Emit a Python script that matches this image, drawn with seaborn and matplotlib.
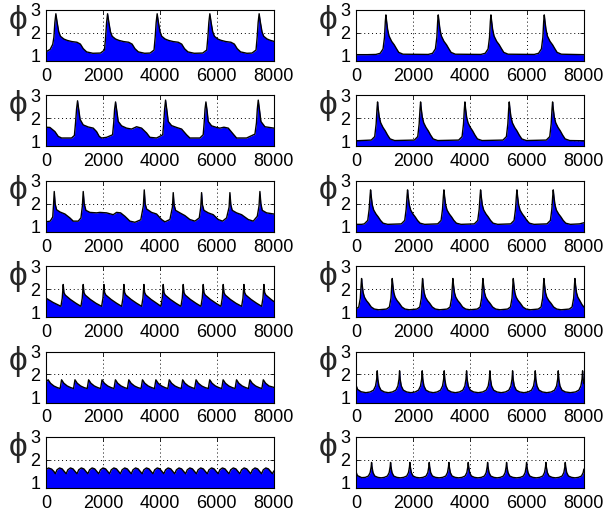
import matplotlib
matplotlib.use('Agg')
import matplotlib.pyplot as plt
import seaborn as sns

# each panel: (time, phi) pairs
phi_l1 = [(0, 1.17), (150, 1.28), (240, 1.5), (280, 1.8), (315, 2.45), (350, 2.83), (395, 2.45), (450, 2.05),
          (510, 1.85), (630, 1.73), (750, 1.67), (910, 1.62), (1090, 1.59), (1210, 1.51), (1310, 1.31), (1430, 1.17),
          (1650, 1.11),
          (1915, 1.12), (2055, 1.25), (2095, 1.8), (2130, 2.45), (2165, 2.83), (2210, 2.45), (2265, 2.05), (2325, 1.85),
          (2445, 1.73), (2565, 1.67), (2725, 1.62), (2905, 1.59), (3025, 1.51), (3125, 1.31), (3245, 1.17), (3465, 1.11),
          (3655, 1.12), (3795, 1.25), (3835, 1.8), (3870, 2.45), (3905, 2.83), (3950, 2.45), (4005, 2.05), (4065, 1.85),
          (4185, 1.73), (4305, 1.67), (4465, 1.62), (4645, 1.59), (4765, 1.51), (4865, 1.31), (4985, 1.17), (5205, 1.11),
          (5504, 1.12), (5644, 1.25), (5684, 1.8), (5719, 2.45), (5754, 2.83), (5799, 2.45), (5854, 2.05), (5914, 1.85),
          (6034, 1.73), (6154, 1.67), (6314, 1.62), (6494, 1.59), (6614, 1.51), (6714, 1.31), (6834, 1.17), (7054, 1.11),
          (7234, 1.12), (7374, 1.25), (7414, 1.8), (7449, 2.45), (7484, 2.83), (7529, 2.45), (7584, 2.05), (7644, 1.85),
          (7764, 1.73), (7884, 1.67), (8000, 1.63)]

phi_r1 = [(0, 1.05), (400, 1.05), (703, 1.06),
          (853, 1.11), (953, 1.3), (1003, 1.8), (1033, 2.5), (1053, 2.78), (1078, 2.5), (1113, 2.15), (1163, 1.86),
          (1253, 1.63), (1343, 1.48), (1423, 1.31), (1503, 1.15), (1653, 1.07), (2540, 1.06),
          (2690, 1.11), (2790, 1.3), (2840, 1.8), (2870, 2.5), (2890, 2.78), (2915, 2.5), (2950, 2.15), (3000, 1.86),
          (3090, 1.63), (3180, 1.48), (3260, 1.31), (3340, 1.15), (3490, 1.07), (4389, 1.06),
          (4539, 1.11), (4639, 1.3), (4689, 1.8), (4719, 2.5), (4739, 2.78), (4764, 2.5), (4799, 2.15), (4849, 1.86),
          (4939, 1.63), (5029, 1.48), (5109, 1.31), (5189, 1.15), (5339, 1.07), (6261, 1.06),
          (6411, 1.11), (6511, 1.3), (6561, 1.8), (6591, 2.5), (6611, 2.78), (6636, 2.5), (6671, 2.15), (6721, 1.86),
          (6811, 1.63), (6901, 1.48), (6981, 1.31), (7061, 1.15), (7211, 1.07), (8000, 1.05)]

phi_l2 = [(0, 1.61), (140, 1.60), (316, 1.42), (433, 1.21), (550, 1.14), (900, 1.14), (1000, 1.25),
          (1040, 1.8), (1076, 2.4), (1111, 2.76), (1150, 2.4), (1200, 1.95), (1310, 1.71), (1486, 1.62), (1661, 1.57),
          (1778, 1.42), (1872, 1.21), (1954, 1.14), (2130, 1.17), (2340, 1.28),
          (2380, 1.8), (2412, 2.4), (2445, 2.71), (2485, 2.35), (2539, 1.86), (2656, 1.67), (2831, 1.57), (3007, 1.53),
          (3182, 1.63), (3358, 1.57), (3533, 1.36), (3650, 1.17), (3884, 1.14), (4100, 1.28),
          (4135, 1.8), (4167, 2.4), (4200, 2.79), (4240, 2.4), (4294, 1.86), (4411, 1.68), (4586, 1.60), (4762, 1.53),
          (4937, 1.28), (5054, 1.14), (5405, 1.14), (5520, 1.28),
          (5555, 1.8), (5585, 2.4), (5616, 2.71), (5655, 2.35), (5698, 1.86), (5815, 1.67), (5990, 1.60), (6107, 1.57),
          (6248, 1.61), (6400, 1.57), (6575, 1.31), (6692, 1.14), (7043, 1.14), (7336, 1.31),
          (7390, 1.8), (7420, 2.4), (7453, 2.79), (7493, 2.4), (7547, 1.86), (7687, 1.63), (8000, 1.57)]

phi_r2 = [(0, 1.02),
          (540, 1.05), (660, 1.2), (710, 1.75), (740, 2.4), (760, 2.71), (785, 2.4), (820, 2.05), (870, 1.8),
          (950, 1.6), (1030, 1.45), (1110, 1.27), (1200, 1.1), (1360, 1.03),
          (2050, 1.05), (2170, 1.2), (2220, 1.75), (2250, 2.4), (2270, 2.71), (2295, 2.4), (2330, 2.05), (2380, 1.8),
          (2460, 1.6), (2540, 1.45), (2620, 1.27), (2710, 1.1), (2870, 1.03),
          (3606, 1.05), (3726, 1.2), (3776, 1.75), (3806, 2.4), (3826, 2.71), (3851, 2.4), (3886, 2.05), (3936, 1.8),
          (4016, 1.6), (4096, 1.45), (4176, 1.27), (4266, 1.1), (4426, 1.03),
          (5162, 1.05), (5282, 1.2), (5332, 1.75), (5362, 2.4), (5382, 2.71), (5407, 2.4), (5442, 2.05), (5492, 1.8),
          (5572, 1.6), (5652, 1.45), (5732, 1.27), (5822, 1.1), (5982, 1.03),
          (6683, 1.05), (6803, 1.2), (6853, 1.75), (6883, 2.4), (6903, 2.71), (6928, 2.4), (6963, 2.05), (7013, 1.8),
          (7093, 1.6), (7173, 1.45), (7253, 1.27), (7343, 1.1), (7503, 1.03), (8000, 1.02)]

phi_l3 = [(0, 1.21), (150, 1.24), (240, 1.42), (265, 1.9), (293, 2.53), (325, 2.0), (374, 1.74), (491, 1.64),
          (667, 1.55), (842, 1.38), (959, 1.24), (1135, 1.24), (1230, 1.38), (1280, 1.9), (1310, 2.53), (1345, 2.0),
          (1404, 1.71), (1544, 1.62), (1778, 1.60), (1895, 1.62), (2130, 1.60), (2363, 1.52), (2480, 1.62),
          (2621, 1.60), (2773, 1.45), (2948, 1.24), (3124, 1.19), (3330, 1.30), (3420, 1.9), (3452, 2.60),
          (3485, 2.0), (3533, 1.77), (3709, 1.62), (3884, 1.55), (4060, 1.31), (4177, 1.21), (4352, 1.31),
          (4440, 1.85), (4469, 2.48), (4500, 1.95), (4551, 1.71), (4703, 1.60), (4879, 1.48), (5054, 1.31),
          (5230, 1.24), (5382, 1.38), (5435, 1.85), (5464, 2.48), (5495, 1.95), (5546, 1.71), (5698, 1.60),
          (5873, 1.52), (6049, 1.31), (6201, 1.24), (6341, 1.38), (6430, 1.85), (6458, 2.48), (6490, 1.95),
          (6540, 1.71), (6692, 1.60), (6868, 1.52), (7102, 1.31), (7277, 1.24), (7418, 1.45), (7480, 1.9),
          (7511, 2.53), (7545, 2.0), (7593, 1.71), (7745, 1.60), (8000, 1.55)]

phi_r3 = [(0, 1.10), (200, 1.10),
          (295, 1.12), (415, 1.27), (465, 1.75), (495, 2.3), (515, 2.6), (540, 2.3), (575, 1.95), (625, 1.72),
          (705, 1.55), (785, 1.42), (865, 1.27), (955, 1.15), (1115, 1.10),
          (1593, 1.12), (1713, 1.27), (1763, 1.75), (1793, 2.3), (1813, 2.6), (1838, 2.3), (1873, 1.95), (1923, 1.72),
          (2003, 1.55), (2083, 1.42), (2163, 1.27), (2253, 1.15), (2413, 1.10),
          (2869, 1.12), (2989, 1.27), (3039, 1.75), (3069, 2.3), (3089, 2.6), (3114, 2.3), (3149, 1.95), (3199, 1.72),
          (3279, 1.55), (3359, 1.42), (3439, 1.27), (3529, 1.15), (3689, 1.10),
          (4156, 1.12), (4276, 1.27), (4326, 1.75), (4356, 2.3), (4376, 2.6), (4401, 2.3), (4436, 1.95), (4486, 1.72),
          (4566, 1.55), (4646, 1.42), (4726, 1.27), (4816, 1.15), (4976, 1.10),
          (5431, 1.12), (5551, 1.27), (5601, 1.75), (5631, 2.3), (5651, 2.6), (5676, 2.3), (5711, 1.95), (5761, 1.72),
          (5841, 1.55), (5921, 1.42), (6001, 1.27), (6091, 1.15), (6251, 1.10),
          (6706, 1.12), (6826, 1.27), (6876, 1.75), (6906, 2.3), (6926, 2.6), (6951, 2.3), (6986, 1.95), (7036, 1.72),
          (7116, 1.55), (7196, 1.42), (7276, 1.27), (7366, 1.15), (7526, 1.10), (7850, 1.12), (8000, 1.17)]

phi_l4 = [(0, 1.61), (250, 1.42), (480, 1.28), (528, 1.25),
          (573, 1.6), (608, 2.2), (633, 1.85), (678, 1.74), (858, 1.55), (1058, 1.38), (1230, 1.25),
          (1275, 1.6), (1310, 2.2), (1335, 1.85), (1380, 1.74), (1560, 1.55), (1760, 1.38), (1956, 1.25),
          (2001, 1.6), (2036, 2.2), (2061, 1.85), (2106, 1.74), (2286, 1.55), (2486, 1.38), (2658, 1.25),
          (2703, 1.6), (2738, 2.2), (2763, 1.85), (2808, 1.74), (2988, 1.55), (3188, 1.38), (3360, 1.25),
          (3405, 1.6), (3440, 2.2), (3465, 1.85), (3510, 1.74), (3690, 1.55), (3890, 1.38), (4038, 1.25),
          (4083, 1.6), (4118, 2.2), (4143, 1.85), (4188, 1.74), (4368, 1.55), (4568, 1.38), (4740, 1.25),
          (4785, 1.6), (4820, 2.2), (4845, 1.85), (4890, 1.74), (5070, 1.55), (5270, 1.38), (5442, 1.25),
          (5487, 1.6), (5522, 2.2), (5547, 1.85), (5592, 1.74), (5772, 1.55), (5972, 1.38), (6144, 1.25),
          (6189, 1.6), (6224, 2.2), (6249, 1.85), (6294, 1.74), (6474, 1.55), (6674, 1.38), (6870, 1.25),
          (6915, 1.6), (6950, 2.2), (6975, 1.85), (7020, 1.74), (7200, 1.55), (7400, 1.38), (7572, 1.25),
          (7617, 1.6), (7652, 2.2), (7677, 1.85), (7722, 1.74), (7902, 1.55), (8000, 1.46)]

phi_r4 = [(0, 1.13), (100, 1.22), (154, 1.6), (184, 2.2), (199, 2.46), (219, 2.2), (254, 1.85), (299, 1.65),
          (369, 1.5), (449, 1.38), (539, 1.22), (649, 1.13), (799, 1.10),
          (1075, 1.13), (1175, 1.22), (1230, 1.6), (1260, 2.2), (1275, 2.46), (1295, 2.2), (1330, 1.85), (1375, 1.65),
          (1445, 1.5), (1525, 1.38), (1615, 1.22), (1725, 1.13), (1875, 1.10),
          (2140, 1.13), (2240, 1.22), (2295, 1.6), (2325, 2.2), (2340, 2.46), (2360, 2.2), (2395, 1.85), (2440, 1.65),
          (2510, 1.5), (2590, 1.38), (2680, 1.22), (2790, 1.13), (2940, 1.10),
          (3204, 1.13), (3304, 1.22), (3359, 1.6), (3389, 2.2), (3404, 2.46), (3424, 2.2), (3459, 1.85), (3504, 1.65),
          (3574, 1.5), (3654, 1.38), (3744, 1.22), (3854, 1.13), (4004, 1.10),
          (4258, 1.13), (4358, 1.22), (4413, 1.6), (4443, 2.2), (4458, 2.46), (4478, 2.2), (4513, 1.85), (4558, 1.65),
          (4628, 1.5), (4708, 1.38), (4798, 1.22), (4908, 1.13), (5058, 1.10),
          (5323, 1.13), (5423, 1.22), (5478, 1.6), (5508, 2.2), (5523, 2.46), (5543, 2.2), (5578, 1.85), (5623, 1.65),
          (5693, 1.5), (5773, 1.38), (5863, 1.22), (5973, 1.13), (6123, 1.10),
          (6399, 1.13), (6499, 1.22), (6554, 1.6), (6584, 2.2), (6599, 2.46), (6619, 2.2), (6654, 1.85), (6699, 1.65),
          (6769, 1.5), (6849, 1.38), (6939, 1.22), (7049, 1.13), (7199, 1.10),
          (7487, 1.13), (7587, 1.22), (7642, 1.6), (7672, 2.2), (7687, 2.46), (7707, 2.2), (7742, 1.85), (7787, 1.65),
          (7857, 1.5), (7937, 1.32), (8000, 1.22)]

phi_l5 = [(0, 1.68), (80, 1.77), (160, 1.62), (280, 1.5), (400, 1.43), (500, 1.39),
          (550, 1.77), (630, 1.62), (750, 1.5), (870, 1.43), (970, 1.39),
          (1020, 1.77), (1100, 1.62), (1220, 1.5), (1340, 1.43), (1450, 1.39),
          (1500, 1.77), (1580, 1.62), (1700, 1.5), (1820, 1.43), (1920, 1.39),
          (1970, 1.77), (2050, 1.62), (2170, 1.5), (2290, 1.43), (2390, 1.39),
          (2440, 1.77), (2520, 1.62), (2640, 1.5), (2760, 1.43), (2860, 1.39),
          (2910, 1.77), (2990, 1.62), (3110, 1.5), (3230, 1.43), (3340, 1.39),
          (3390, 1.77), (3470, 1.62), (3590, 1.5), (3710, 1.43), (3810, 1.39),
          (3860, 1.77), (3940, 1.62), (4060, 1.5), (4180, 1.43), (4280, 1.39),
          (4330, 1.77), (4410, 1.62), (4530, 1.5), (4650, 1.43), (4750, 1.39),
          (4800, 1.77), (4880, 1.62), (5000, 1.5), (5120, 1.43), (5220, 1.39),
          (5270, 1.77), (5350, 1.62), (5470, 1.5), (5590, 1.43), (5700, 1.39),
          (5750, 1.77), (5830, 1.62), (5950, 1.5), (6070, 1.43), (6170, 1.39),
          (6220, 1.77), (6300, 1.62), (6420, 1.5), (6540, 1.43), (6640, 1.39),
          (6690, 1.77), (6770, 1.62), (6890, 1.5), (7010, 1.43), (7110, 1.39),
          (7160, 1.77), (7240, 1.62), (7360, 1.5), (7480, 1.43), (7580, 1.39),
          (7630, 1.77), (7710, 1.62), (7830, 1.5), (8000, 1.44)]

phi_r5 = [(0, 1.55), (60, 1.35), (180, 1.25), (350, 1.21), (500, 1.24), (619, 1.32), (689, 1.5), (729, 1.8),
          (749, 2.16), (769, 1.8), (809, 1.5), (879, 1.32), (999, 1.24), (1140, 1.21), (1283, 1.24), (1403, 1.32),
          (1473, 1.5), (1513, 1.8), (1533, 2.16), (1553, 1.8), (1593, 1.5), (1663, 1.32), (1783, 1.24), (1930, 1.21),
          (2078, 1.24), (2198, 1.32), (2268, 1.5), (2308, 1.8), (2328, 2.16), (2348, 1.8), (2388, 1.5), (2458, 1.32),
          (2578, 1.24), (2715, 1.21), (2850, 1.24), (2970, 1.32), (3040, 1.5), (3080, 1.8), (3100, 2.16), (3120, 1.8),
          (3160, 1.5), (3230, 1.32), (3350, 1.24), (3490, 1.21), (3634, 1.24), (3754, 1.32), (3824, 1.5), (3864, 1.8),
          (3884, 2.16), (3904, 1.8), (3944, 1.5), (4014, 1.32), (4134, 1.24), (4295, 1.21), (4453, 1.24), (4573, 1.32),
          (4643, 1.5), (4683, 1.8), (4703, 2.16), (4723, 1.8), (4763, 1.5), (4833, 1.32), (4953, 1.24), (5100, 1.21),
          (5249, 1.24), (5369, 1.32), (5439, 1.5), (5479, 1.8), (5499, 2.16), (5519, 1.8), (5559, 1.5), (5629, 1.32),
          (5749, 1.24), (5897, 1.21), (6045, 1.24), (6165, 1.32), (6235, 1.5), (6275, 1.8), (6295, 2.16), (6315, 1.8),
          (6355, 1.5), (6425, 1.32), (6545, 1.24), (6700, 1.21), (6852, 1.24), (6972, 1.32), (7042, 1.5), (7082, 1.8),
          (7102, 2.16), (7122, 1.8), (7162, 1.5), (7232, 1.32), (7352, 1.24), (7530, 1.21), (7706, 1.24), (7826, 1.32),
          (7896, 1.5), (7936, 1.8), (7956, 2.16), (7976, 1.8), (8000, 1.6)]

phi_l6 = [(0, 1.57), (90, 1.65), (200, 1.6), (280, 1.5),
          (330, 1.40), (390, 1.57), (480, 1.65), (570, 1.61), (650, 1.49),
          (711, 1.40), (771, 1.57), (861, 1.65), (951, 1.61), (1031, 1.49),
          (1092, 1.40), (1152, 1.57), (1242, 1.65), (1332, 1.61), (1412, 1.49),
          (1473, 1.40), (1533, 1.57), (1623, 1.65), (1713, 1.61), (1793, 1.49),
          (1854, 1.40), (1914, 1.57), (2004, 1.65), (2094, 1.61), (2174, 1.49),
          (2235, 1.40), (2295, 1.57), (2385, 1.65), (2475, 1.61), (2555, 1.49),
          (2616, 1.40), (2676, 1.57), (2766, 1.65), (2856, 1.61), (2936, 1.49),
          (2997, 1.40), (3057, 1.57), (3147, 1.65), (3237, 1.61), (3317, 1.49),
          (3378, 1.40), (3438, 1.57), (3528, 1.65), (3618, 1.61), (3698, 1.49),
          (3759, 1.40), (3819, 1.57), (3909, 1.65), (3999, 1.61), (4079, 1.49),
          (4140, 1.40), (4200, 1.57), (4290, 1.65), (4380, 1.61), (4460, 1.49),
          (4521, 1.40), (4581, 1.57), (4671, 1.65), (4761, 1.61), (4841, 1.49),
          (4902, 1.40), (4962, 1.57), (5052, 1.65), (5142, 1.61), (5222, 1.49),
          (5283, 1.40), (5343, 1.57), (5433, 1.65), (5523, 1.61), (5603, 1.49),
          (5664, 1.40), (5724, 1.57), (5814, 1.65), (5904, 1.61), (5984, 1.49),
          (6045, 1.40), (6105, 1.57), (6195, 1.65), (6285, 1.61), (6365, 1.49),
          (6426, 1.40), (6486, 1.57), (6576, 1.65), (6666, 1.61), (6746, 1.49),
          (6807, 1.40), (6867, 1.57), (6957, 1.65), (7047, 1.61), (7127, 1.49),
          (7188, 1.40), (7248, 1.57), (7338, 1.65), (7428, 1.61), (7508, 1.49),
          (7569, 1.40), (7629, 1.57), (7719, 1.65), (7809, 1.61), (7889, 1.49),
          (7950, 1.40), (8000, 1.52)]

phi_r6 = [(0, 1.5), (50, 1.32), (200, 1.23), (330, 1.24), (440, 1.3), (500, 1.45), (535, 1.7), (550, 1.89),
          (565, 1.7), (600, 1.45), (660, 1.3), (770, 1.24), (884, 1.22), (997, 1.24), (1107, 1.3), (1167, 1.45),
          (1202, 1.7), (1217, 1.89), (1232, 1.7), (1267, 1.45), (1327, 1.3), (1437, 1.24), (1556, 1.22), (1675, 1.24),
          (1785, 1.3), (1845, 1.45), (1880, 1.7), (1895, 1.89), (1910, 1.7), (1945, 1.45), (2005, 1.3), (2115, 1.24),
          (2235, 1.22), (2354, 1.24), (2464, 1.3), (2524, 1.45), (2559, 1.7), (2574, 1.89), (2589, 1.7), (2624, 1.45),
          (2684, 1.3), (2794, 1.24), (2919, 1.22), (3044, 1.24), (3154, 1.3), (3214, 1.45), (3249, 1.7), (3264, 1.89),
          (3279, 1.7), (3314, 1.45), (3374, 1.3), (3484, 1.24), (3604, 1.22), (3723, 1.24), (3833, 1.3), (3893, 1.45),
          (3928, 1.7), (3943, 1.89), (3958, 1.7), (3993, 1.45), (4053, 1.3), (4163, 1.24), (4283, 1.22), (4402, 1.24),
          (4512, 1.3), (4572, 1.45), (4607, 1.7), (4622, 1.89), (4637, 1.7), (4672, 1.45), (4732, 1.3), (4842, 1.24),
          (4955, 1.22), (5068, 1.24), (5178, 1.3), (5238, 1.45), (5273, 1.7), (5288, 1.89), (5303, 1.7), (5338, 1.45),
          (5398, 1.3), (5508, 1.24), (5639, 1.22), (5770, 1.24), (5880, 1.3), (5940, 1.45), (5975, 1.7), (5990, 1.89),
          (6005, 1.7), (6040, 1.45), (6100, 1.3), (6210, 1.24), (6330, 1.22), (6449, 1.24), (6559, 1.3), (6619, 1.45),
          (6654, 1.7), (6669, 1.89), (6684, 1.7), (6719, 1.45), (6779, 1.3), (6889, 1.24), (7009, 1.22), (7128, 1.24),
          (7238, 1.3), (7298, 1.45), (7333, 1.7), (7348, 1.89), (7363, 1.7), (7398, 1.45), (7458, 1.3), (7568, 1.24),
          (7688, 1.22), (7807, 1.24), (7917, 1.3), (7977, 1.45), (8000, 1.6)]

x_ticks = [0, 2000, 4000, 6000, 8000]
y_ticks = [1, 2, 3]
y_range = (0.78, 3)

panels = [phi_l1, phi_r1, phi_l2, phi_r2, phi_l3, phi_r3,
          phi_l4, phi_r4, phi_l5, phi_r5, phi_l6, phi_r6]

sns.set_style('white')
plt.rcParams['font.family'] = ['Liberation Sans', 'DejaVu Sans']
plt.rcParams['axes.edgecolor'] = 'black'
plt.rcParams['axes.linewidth'] = 0.8

fig, axes = plt.subplots(6, 2, figsize=(6.12, 5.18), dpi=100)
fig.subplots_adjust(left=0.075, right=0.954, top=0.981, bottom=0.058, hspace=0.674, wspace=0.36)

for ax, pts in zip(axes.flat, panels):
    t = [p[0] for p in pts]
    phi = [p[1] for p in pts]
    ax.fill_between(t, phi, y_range[0], color='#0000ff', linewidth=0)
    sns.lineplot(x=t, y=phi, ax=ax, color='black', linewidth=1.0, estimator=None, sort=False)
    ax.set_xlim(0, 8000)
    ax.set_ylim(*y_range)
    ax.set_xticks(x_ticks)
    ax.set_yticks(y_ticks)
    ax.set_axisbelow(True)
    ax.grid(True, linestyle=(0, (1, 3)), color='black', linewidth=0.7)
    ax.tick_params(direction='in', length=3, width=0.6, labelsize=13, colors='black',
                   top=True, right=True, left=True, bottom=True)
    ax.tick_params(axis='x', pad=5)
    ax.tick_params(axis='y', pad=4)
    ax.set_ylabel('ϕ', rotation=0, fontsize=24, va='center', ha='center')
    ax.yaxis.set_label_coords(-0.12, 0.8)
    for s in ax.spines.values():
        s.set_color('black')

fig.savefig('out.png', dpi=100)
